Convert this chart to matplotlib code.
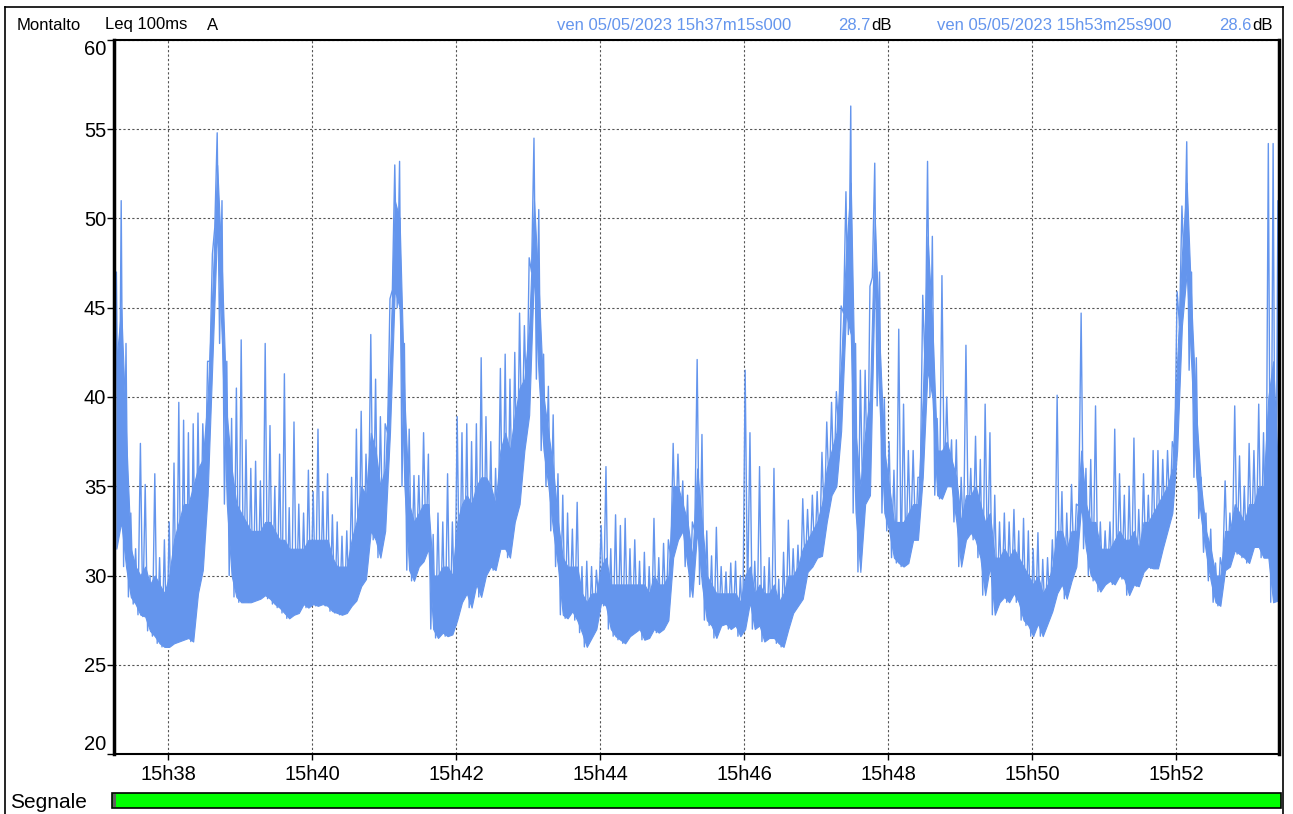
import numpy as np
import matplotlib
matplotlib.use("Agg")
import matplotlib.pyplot as plt
from matplotlib.lines import Line2D
from matplotlib.patches import Rectangle

plt.rcParams['font.family'] = ['Liberation Sans', 'DejaVu Sans']

# === Data: Leq 100ms A in 4 s bins starting at 15h37m15s ===
# lo = lowest sample, core = top of the dense bulk of samples, hi = highest sample
BIN_S = 4.0
END_S = 970.9          # 15h53m25s900
END_DB = 28.6

lo = [31.5, 33, 30.5, 28.8, 28.4, 27.8, 27.7, 26.9, 26.6, 26.2, 26, 26, 26.2, 26.3, 26.4,
      26.5, 26.3, 29, 30.3, 34.5, 42, 49.5, 43, 34, 30, 28.8, 28.5, 28.5, 28.5, 28.6,
      28.7, 28.9, 28.7, 28.4, 28.2, 27.9, 27.6, 27.8, 27.9, 28.4, 28.2, 28.4, 28.3, 28.4, 28.3,
      28.0, 27.9, 27.8, 27.9, 28.3, 28.6, 29.4, 29.8, 32.5, 32, 31, 32.5, 38, 46, 45,
      35, 30.3, 29.7, 30.5, 30.8, 31.5, 27, 26.5, 26.8, 26.6, 26.7, 27.5, 28.5, 29, 28.2,
      29.5, 28.8, 30, 30.5, 30.3, 31.5, 31.5, 31, 33, 34, 37, 39, 47, 41, 37,
      35, 32.5, 30.5, 27.8, 27.6, 28, 27.5, 26.8, 26, 26.5, 27, 28.5, 28.3, 27, 26.6,
      26.4, 26.2, 26.6, 26.8, 27, 26.4, 26.5, 27, 26.8, 27, 27.5, 31, 32, 32.5, 30.5,
      28.8, 32.5, 29.5, 27.5, 27.2, 26.5, 27.2, 27.3, 27, 27.2, 26.6, 27, 28.5, 27, 27.2,
      26.3, 26.5, 26.5, 26.2, 26, 27, 27.9, 28.3, 28.7, 30.2, 30.5, 31, 31.1, 33, 34.5,
      35, 38.1, 44.7, 43.5, 33.5, 30.2, 34, 34.5, 46.7, 39.5, 33.5, 32.5, 31, 30.7, 30.5,
      30.7, 32, 32, 35.5, 41.5, 40, 34.5, 34.3, 35, 35, 33, 30.5, 32, 32.4, 32,
      31, 28.9, 30.5, 27.8, 28.5, 28.8, 28.5, 29, 28.5, 27.5, 27.2, 26.6, 27.3, 26.6, 27.3,
      28, 29, 29.5, 28.7, 29.7, 30.5, 33.9, 31.5, 30, 29.7, 29.1, 29.5, 29.7, 29.5, 30,
      29.8, 28.9, 29.5, 29.4, 30.2, 30.5, 30.4, 30.4, 31.5, 32.5, 33.5, 37, 44, 47, 41.5,
      35.5, 33.2, 31.3, 29.7, 28.5, 28.3, 30.3, 30.5, 31.4, 31.2, 31, 30.7, 31.6, 31.6, 31,
      31, 28.5, 28.6]

core = [42, 45, 38, 31.5, 30.5, 30, 30.5, 29.5, 30, 29.5, 29, 30, 32, 33, 34,
        34, 35, 36, 36.5, 40, 46, 53, 47, 39, 36, 34, 33.5, 33, 32.5, 32.5,
        32.5, 33, 33, 32.5, 32, 32, 31.5, 31.5, 31.5, 31.5, 32, 32, 32, 32, 32,
        31, 30.5, 30.5, 30.5, 32, 33, 35, 34.5, 38, 37, 35, 36, 42, 51, 50,
        40, 34, 33, 33.5, 34, 34, 30, 30, 30.5, 30.5, 30, 33, 34, 34.5, 34,
        35, 35.5, 35.5, 35, 34, 37, 38, 37, 39, 40.5, 41, 44, 51, 46, 40,
        38, 36, 33, 31, 30.5, 30.5, 30.5, 29, 28.5, 29, 29, 30.5, 31, 29.5, 29.5,
        29.5, 29.5, 29.5, 29.5, 29.5, 29.5, 29, 30, 29.5, 29.5, 30, 35, 35, 34, 33,
        31, 36, 33, 30, 29.5, 29, 29, 29, 29, 29, 28.5, 30, 30.5, 29, 29.5,
        29, 29, 29.5, 28.5, 29, 30, 30, 30.5, 31.5, 32, 32.5, 33, 34, 36, 37,
        38, 42, 48, 52, 38, 35, 38, 40, 50, 43, 37, 35, 33, 33, 33,
        33.5, 34, 34, 40, 49, 44, 37, 37, 37.5, 36.5, 35.5, 33, 34.5, 34.5, 35,
        34, 33, 33.5, 31, 31, 31.5, 31, 31.5, 31, 30.5, 30, 29.5, 30, 29, 29.5,
        30.5, 32.5, 32.5, 31.5, 32.5, 32.5, 37, 34, 33, 33, 31.5, 31.5, 31.5, 32, 32.5,
        32, 32, 32.5, 31.5, 33, 33, 33.5, 34, 34.5, 35, 36, 42, 48, 52, 45,
        39, 35, 32.5, 31.5, 30, 30, 32.5, 32.5, 34, 33.5, 33, 34, 34, 35, 35,
        40, 42, 36]

hi = [47, 51, 43, 33.5, 31.5, 37.4, 35.1, 30, 35.7, 31, 32, 33, 36.3, 39.7, 38.7,
      38, 38.5, 39.1, 38.5, 42, 48, 54.8, 51, 42, 38.8, 40.5, 43.2, 37.6, 36, 36.4,
      35.3, 43, 38.4, 35, 36.8, 41.3, 33.8, 38.6, 34, 33.5, 35.9, 34.7, 38.2, 34.7, 35.7,
      33.4, 33.0, 32.2, 32.5, 35.5, 38.2, 39.2, 36.8, 43.5, 41, 38.9, 38.5, 45.5, 53, 53.2,
      43, 38.2, 35.6, 35.6, 38, 36.8, 32.3, 33.5, 33, 35.7, 33, 38.9, 38, 38.5, 37.5,
      38.5, 42.2, 38.9, 37.5, 36, 41.6, 42.4, 41, 42.5, 44.7, 44, 47.8, 54.5, 50.5, 42.4,
      40.6, 39, 35.7, 34.5, 33.5, 32.6, 34.1, 30.5, 30.8, 30.5, 30.3, 32.8, 36.1, 31.5, 33.4,
      32.8, 33.2, 31.5, 32, 30.8, 31.3, 30.5, 33.2, 31, 31.8, 32, 37.4, 36.8, 35.3, 34.5,
      33, 42.1, 37.9, 32.5, 31.1, 32.7, 30.5, 30.2, 30.7, 30.8, 30, 41.5, 38, 30.8, 36.1,
      30.5, 31, 36, 29.8, 31.3, 33.1, 31.5, 31.7, 34.3, 33.7, 34.5, 34.7, 36.9, 38.6, 39.7,
      40.3, 45.1, 51.5, 56.3, 43, 41.5, 41.5, 46.2, 53.1, 47, 39.9, 37.5, 35.9, 43.8, 39.6,
      37, 37, 35.5, 45.7, 53.2, 49, 38.8, 46.8, 40, 37.6, 37.6, 35.5, 42.9, 36, 37.8,
      36.5, 39.6, 38, 34.5, 33, 33.5, 33, 33.7, 32.5, 33.2, 32.5, 31.5, 32.4, 30.9, 31,
      32, 40.1, 34.7, 33.5, 35.1, 34, 44.7, 36, 36.5, 39.5, 33, 32.5, 33, 38.2, 35.7,
      34.5, 35, 37.7, 33.7, 35.7, 34.5, 37, 37, 36.5, 37, 37.5, 45.9, 50.7, 54.3, 47,
      42.2, 35.5, 33.5, 32.6, 30.7, 31, 35.3, 33.5, 39.5, 36.7, 35, 37.4, 37, 39.6, 38,
      54.2, 54.2, 51]

tick_sec = [45, 165, 285, 405, 525, 645, 765, 885]
tick_lab = ['15h38', '15h40', '15h42', '15h44', '15h46', '15h48', '15h50', '15h52']
y_ticks = [20, 25, 30, 35, 40, 45, 50, 55, 60]

# interleave min / max so the trace zigzags like the raw 100 ms samples
n = len(lo)
t = np.empty(2 * n + 1)
v = np.empty(2 * n + 1)
t[0:2 * n:2] = np.arange(n) * BIN_S
t[1:2 * n:2] = np.arange(n) * BIN_S + BIN_S / 2
v[0:2 * n:2] = lo
v[1:2 * n:2] = hi
t[-1] = END_S
v[-1] = END_DB
t_mid = np.arange(n) * BIN_S + BIN_S / 2

W, H = 1293, 814
fig = plt.figure(figsize=(W / 100, H / 100), dpi=100)
ax = fig.add_axes([114 / W, 1 - 754 / H, (1279 - 114) / W, (754 - 40) / H])

line_col = '#6495ED'
ax.fill_between(t_mid, lo, core, color=line_col, lw=0.8, ec=line_col)
ax.plot(t, v, color=line_col, lw=1.0)
ax.set_xlim(0, END_S)
ax.set_ylim(20, 60)
ax.set_xticks(tick_sec)
ax.set_xticklabels(tick_lab)
ax.set_yticks(y_ticks)
ax.tick_params(axis='both', labelsize=14.5, direction='out', color='black')
ax.tick_params(axis='y', length=5, width=1, pad=0.5)
ax.tick_params(axis='x', length=4, width=1, pad=4)
ax.grid(True, color='#555555', lw=0.8, linestyle=(0, (2, 2)))
ax.set_axisbelow(True)

ylabs = ax.get_yticklabels()
ylabs[0].set_va('bottom')
ylabs[-1].set_va('top')

for side in ['left', 'right']:
    ax.spines[side].set_linewidth(2.5)
for side in ['top', 'bottom']:
    ax.spines[side].set_linewidth(1.5)

# === Header ===
def fx(px):
    return px / W

def fy(py):
    return 1 - py / H

fig.text(fx(17), fy(25), 'Montalto', fontsize=12, va='center')
fig.text(fx(105), fy(25), 'Leq 100ms', fontsize=12, va='center')
fig.text(fx(207), fy(25), 'A', fontsize=12, va='center')

blue = '#6495ED'
fig.text(fx(557), fy(25), 'ven 05/05/2023 15h37m15s000', fontsize=12, va='center', color=blue)
fig.text(fx(871), fy(25), '28.7', fontsize=12, va='center', ha='right', color=blue)
fig.text(fx(871), fy(25), 'dB', fontsize=12, va='center', ha='left')
fig.text(fx(937), fy(25), 'ven 05/05/2023 15h53m25s900', fontsize=12, va='center', color=blue)
fig.text(fx(1252), fy(25), '28.6', fontsize=12, va='center', ha='right', color=blue)
fig.text(fx(1252), fy(25), 'dB', fontsize=12, va='center', ha='left')

# === Signal bar ===
fig.text(fx(10), fy(802), 'Segnale', fontsize=15, va='center')
fig.add_artist(Rectangle((fx(112), fy(808)), fx(1281) - fx(112), fy(793) - fy(808),
                         transform=fig.transFigure, facecolor='#00FF00',
                         edgecolor='black', lw=1.2))
fig.add_artist(Rectangle((fx(113), fy(807)), fx(116) - fx(113), fy(794) - fy(807),
                         transform=fig.transFigure, facecolor='#606060', lw=0))

# === Outer frame ===
frame_kw = dict(transform=fig.transFigure, color='black', lw=1.2)
fig.add_artist(Line2D([fx(5), fx(1283)], [fy(7), fy(7)], **frame_kw))
fig.add_artist(Line2D([fx(5), fx(5)], [fy(7), 0], **frame_kw))
fig.add_artist(Line2D([fx(1283), fx(1283)], [fy(7), 0], **frame_kw))

fig.savefig('out.png', dpi=100)
